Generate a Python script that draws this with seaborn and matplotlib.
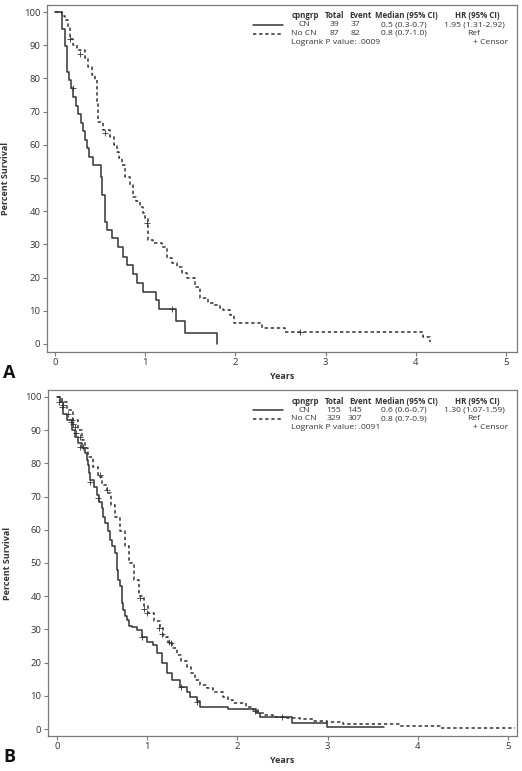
import matplotlib.pyplot as plt
import seaborn as sns
from matplotlib.lines import Line2D

# ---- Panel A: Kaplan-Meier step points (years, % survival)
a_cn_t = [0, 0.08, 0.11, 0.13, 0.155, 0.18, 0.20, 0.23, 0.25, 0.285, 0.31, 0.33, 0.35,
          0.38, 0.42, 0.51, 0.525, 0.555, 0.58, 0.63, 0.70, 0.757, 0.795, 0.868, 0.906,
          0.972, 1.12, 1.153, 1.34, 1.445, 1.79]
a_cn_s = [100, 95, 89.7, 82, 79.5, 77, 74.4, 71.8, 69.2, 66.7, 64.1, 61.5, 59.0,
          56.4, 53.8, 50.4, 44.9, 36.8, 34.3, 31.8, 29.1, 26.3, 23.8, 21.0, 18.3,
          15.8, 13.2, 10.4, 6.8, 3.4, 0]
a_no_t = [0, 0.074, 0.11, 0.145, 0.166, 0.20, 0.24, 0.333, 0.37, 0.407, 0.443, 0.462,
          0.48, 0.535, 0.61, 0.65, 0.684, 0.71, 0.74, 0.776, 0.83, 0.868, 0.90, 0.942,
          0.975, 0.998, 1.034, 1.09, 1.183, 1.238, 1.30, 1.35, 1.405, 1.46, 1.552,
          1.607, 1.70, 1.755, 1.83, 1.86, 1.94, 1.985, 2.29, 2.55, 4.08, 4.16]
a_no_s = [100, 98.9, 97.7, 95.4, 92, 90, 88.5, 86, 83.5, 81, 79.5, 73,
          67, 64.5, 62.4, 60, 57.9, 56, 53.9, 50.4, 47.9, 44.4, 43, 41.4,
          39.5, 37.9, 31.3, 30.5, 29.1, 25.8, 24.5, 23.3, 21.3, 19.8, 17.3,
          13.8, 12.3, 11.7, 10.8, 10.2, 8.7, 6.2, 4.9, 3.7, 2.2, 0.5]
a_cn_cens_t = [0.196, 1.30]
a_cn_cens_s = [77, 10.4]
a_no_cens_t = [0.166, 0.277, 0.554, 1.017, 2.72]
a_no_cens_s = [92, 87.5, 63.6, 36.3, 3.7]

# ---- Panel B
b_cn_t = [0, 0.03, 0.07, 0.11, 0.163, 0.2, 0.236, 0.277, 0.31, 0.333, 0.347, 0.36,
          0.371, 0.405, 0.44, 0.466, 0.496, 0.515, 0.532, 0.56, 0.588, 0.615, 0.643,
          0.66, 0.67, 0.68, 0.70, 0.717, 0.726, 0.735, 0.753, 0.773, 0.80, 0.828,
          0.884, 0.939, 0.994, 1.068, 1.105, 1.161, 1.216, 1.272, 1.364, 1.438, 1.475,
          1.549, 1.585, 1.892, 2.206, 2.25, 2.60, 2.99, 3.62]
b_cn_s = [100, 98.5, 95, 93, 90, 88, 86, 84.5, 83, 81, 79.5, 77,
          75, 73, 70.5, 68.5, 66.5, 64, 62, 59.5, 57, 55, 53,
          50.9, 48, 44.9, 43, 40.9, 38, 35.8, 34, 32.8, 31, 30.8,
          29.8, 27.8, 26.3, 25.3, 22.8, 19.8, 16.8, 14.8, 12.7, 11.2, 9.7,
          8.5, 6.7, 5.9, 4.7, 3.5, 1.7, 0.7, 0.7]
b_no_t = [0, 0.052, 0.11, 0.18, 0.23, 0.274, 0.31, 0.347, 0.40, 0.458, 0.50, 0.551,
          0.60, 0.643, 0.70, 0.754, 0.80, 0.85, 0.91, 0.96, 1.012, 1.08, 1.142, 1.18,
          1.234, 1.28, 1.327, 1.38, 1.438, 1.49, 1.53, 1.585, 1.66, 1.733, 1.844, 1.90,
          1.955, 2.10, 2.17, 2.23, 2.30, 2.40, 2.55, 2.69, 2.85, 2.99, 3.17, 3.80,
          4.25, 5.08]
b_no_s = [100, 98.6, 96, 93, 90, 87, 84.5, 82, 79, 76, 73.5, 71,
          67.5, 64, 59.5, 55, 50, 45, 40, 37, 34.8, 32.5, 30.3, 27.8,
          26.3, 24.3, 22.3, 20.5, 18.8, 16.8, 14.8, 13.3, 12.3, 11.2, 9.7, 8.7,
          7.7, 6.7, 5.7, 4.7, 4.2, 3.7, 3.3, 2.9, 2.4, 2.0, 1.5, 1.0,
          0.4, 0.4]
b_cn_cens_t = [0.02, 0.05, 0.12, 0.16, 0.18, 0.21, 0.25, 0.37, 0.46, 0.94, 1.38, 1.55, 2.2, 2.5]
b_cn_cens_s = [98.5, 97, 95, 92.5, 92, 89, 85, 74.5, 69.5, 27.8, 12.7, 8.2, 5.5, 3.5]
b_no_cens_t = [0.07, 0.17, 0.20, 0.25, 0.29, 0.48, 0.55, 0.92, 0.97, 1.0, 1.13, 1.16, 1.24, 1.26]
b_no_cens_s = [97.6, 93, 91, 88, 85, 76.5, 72, 39.5, 36, 35, 30.5, 28.5, 26.3, 26]

# ---- legend tables
header = ['cpngrp', 'Total', 'Event', 'Median (95% CI)', 'HR (95% CI)']
a_rows = [['CN', '39', '37', '0.5 (0.3-0.7)', '1.95 (1.31-2.92)'],
          ['No CN', '87', '82', '0.8 (0.7-1.0)', 'Ref']]
b_rows = [['CN', '155', '145', '0.6 (0.6-0.7)', '1.30 (1.07-1.59)'],
          ['No CN', '329', '307', '0.8 (0.7-0.9)', 'Ref']]
a_logrank = 'Logrank P value: .0009'
b_logrank = 'Logrank P value: .0091'

W, H = 522, 771
INK = '#333333'
SPINE = '#7a7a7a'
DASH = (0, (2.2, 1.8))


def fx(px):
    return px / W


def fy(py):
    return 1 - py / H


sns.set_theme(style='white')
plt.rcParams['font.family'] = ['Open Sans', 'DejaVu Sans']

fig = plt.figure(figsize=(W / 100, H / 100), dpi=100)


def draw_panel(left, top, right, bottom, xlim, ylim, cn, no, cn_c, no_c, rows, logrank, letter):
    ax = fig.add_axes([fx(left), fy(bottom), fx(right) - fx(left), (bottom - top) / H])
    sns.lineplot(x=cn[0], y=cn[1], drawstyle='steps-post', estimator=None, sort=False,
                 color=INK, linewidth=1.1, ax=ax)
    sns.lineplot(x=no[0], y=no[1], drawstyle='steps-post', estimator=None, sort=False,
                 color=INK, linewidth=1.1, linestyle=DASH, ax=ax)
    for c in (cn_c, no_c):
        sns.scatterplot(x=c[0], y=c[1], marker='+', s=22, color=INK, linewidth=0.6, ax=ax)

    ax.set_xlim(*xlim)
    ax.set_ylim(*ylim)
    ax.set_xticks(range(0, 6))
    ax.set_yticks(range(0, 101, 10))
    ax.tick_params(bottom=True, left=True, length=3, width=0.8, color=SPINE,
                   labelsize=6.8, labelcolor=INK, pad=1.5)
    for sp in ax.spines.values():
        sp.set_color(SPINE)
        sp.set_linewidth(0.9)
    ax.set_xlabel('Years', fontsize=6.5, fontweight='bold', color=INK)
    ax.set_ylabel('Percent Survival', fontsize=6.5, fontweight='bold', color=INK)
    ax.xaxis.set_label_coords(0.5, -0.058)
    ax.yaxis.set_label_coords(-0.077, 0.5)

    # legend block inside the axes
    cols = [304, 334, 355, 404, 474]
    hcols = [305, 335, 360, 406, 477]
    ys = [top + 11, top + 20, top + 28.8, top + 37.6]
    for x, t in zip(hcols, header):
        fig.text(fx(x), fy(ys[0]), t, fontsize=5.7, fontweight='bold', color=INK,
                 ha='center', va='center')
    for r, row in enumerate(rows):
        for x, t in zip(cols, row):
            fig.text(fx(x), fy(ys[r + 1]), t, fontsize=6.1, color=INK,
                     ha='center', va='center')
    fig.add_artist(Line2D([fx(253), fx(283)], [fy(ys[1]), fy(ys[1])], color=INK, lw=1.1))
    fig.add_artist(Line2D([fx(253), fx(283)], [fy(ys[2]), fy(ys[2])], color=INK, lw=1.1,
                          linestyle=DASH))
    fig.text(fx(291), fy(ys[3]), logrank, fontsize=6.1, color=INK, ha='left', va='center')
    fig.text(fx(491), fy(ys[3]), '+ Censor', fontsize=6.1, color=INK, ha='center', va='center')
    fig.text(fx(3), fy(bottom + 26), letter, fontsize=13, fontweight='bold', color='#111111',
             ha='left', va='baseline')
    return ax


draw_panel(46.7, 4.7, 517, 352, (-0.092, 5.12), (-2.41, 102.2),
           (a_cn_t, a_cn_s), (a_no_t, a_no_s),
           (a_cn_cens_t, a_cn_cens_s), (a_no_cens_t, a_no_cens_s),
           a_rows, a_logrank, 'A')
draw_panel(47.7, 390, 517, 736, (-0.103, 5.10), (-2.1, 102.1),
           (b_cn_t, b_cn_s), (b_no_t, b_no_s),
           (b_cn_cens_t, b_cn_cens_s), (b_no_cens_t, b_no_cens_s),
           b_rows, b_logrank, 'B')

fig.savefig('out.png', dpi=100)
